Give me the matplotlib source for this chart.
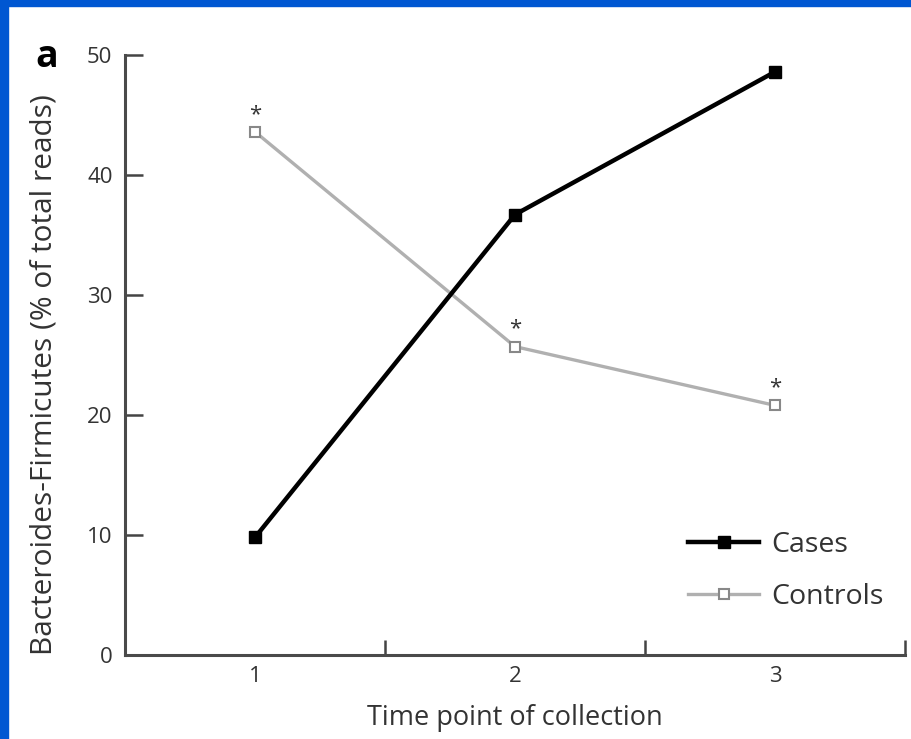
import matplotlib
matplotlib.use("Agg")
import matplotlib.pyplot as plt
from matplotlib.patches import Rectangle
from matplotlib.lines import Line2D

time_points = [1, 2, 3]
cases = [9.8, 36.7, 48.6]
controls = [43.6, 25.7, 20.8]
control_sig = ["*", "*", "*"]
y_ticks = [0, 10, 20, 30, 40, 50]

plt.rcParams['font.family'] = ['Open Sans', 'DejaVu Sans']

fig = plt.figure(figsize=(9.12, 7.39), dpi=100)
fig.patch.set_facecolor('white')
blue = '#0057d2'
fig.patches.append(Rectangle((0, 1 - 6/739), 1, 6/739, transform=fig.transFigure, color=blue, zorder=10))
fig.patches.append(Rectangle((0, 0), 8/912, 1, transform=fig.transFigure, color=blue, zorder=10))

ax = fig.add_axes([125/912, 84/739, 780/912, 600/739])
ax.plot(time_points, controls, color='#b0b0b0', lw=2.4, marker='s', ms=7,
        mfc='white', mec='#888888', mew=1.5, zorder=2)
ax.plot(time_points, cases, color='black', lw=3.2, marker='s', ms=8,
        mfc='black', mec='black', zorder=3)
for x, y, s in zip(time_points, controls, control_sig):
    ax.annotate(s, (x, y), xytext=(0, 5), textcoords='offset points',
                ha='center', va='bottom', fontsize=16, color='#333333')

ax.set_xlim(0.5, 3.5)
ax.set_ylim(0, 50)
ax.set_yticks(y_ticks)
ax.set_xticks(time_points)
ax.set_xticks([1.5, 2.5, 3.5], minor=True)
for s in ['top', 'right']:
    ax.spines[s].set_visible(False)
for s in ['left', 'bottom']:
    ax.spines[s].set_color('#4a4a4a')
    ax.spines[s].set_linewidth(2.2)
ax.tick_params(axis='y', direction='in', length=13, width=1.8, color='#444444',
               labelsize=16, pad=9, labelcolor='#333333')
ax.tick_params(axis='x', which='major', length=0, labelsize=16, pad=8, labelcolor='#333333')
ax.tick_params(axis='x', which='minor', direction='in', length=11, width=1.8, color='#444444')

ax.set_ylabel('Bacteroides-Firmicutes (% of total reads)', fontsize=21.5, color='#333333')
ax.yaxis.set_label_coords(-66/780, 0.467)
ax.set_xlabel('Time point of collection', fontsize=19.5, color='#333333', labelpad=12)
fig.text(47/912, 1 - 57/739, 'a', fontsize=27, fontweight='bold', ha='center', va='center')

handles = [Line2D([], [], color='black', lw=3.2, marker='s', ms=8, mfc='black'),
           Line2D([], [], color='#b0b0b0', lw=2.4, marker='s', ms=7, mfc='white', mec='#888888', mew=1.5)]
ax.legend(handles, ['Cases', 'Controls'], loc='upper left', bbox_to_anchor=(0.722, 0.206),
          frameon=False, fontsize=20.5, handlelength=2.5, handletextpad=0.42,
          labelspacing=0.82, borderpad=0, borderaxespad=0, labelcolor='#333333')

fig.savefig('out.png', dpi=100)
